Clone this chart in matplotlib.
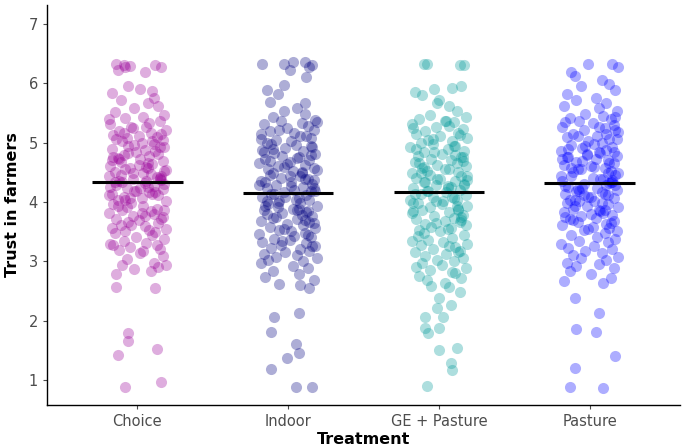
import matplotlib
matplotlib.use("Agg")
import matplotlib.pyplot as plt

# Treatment groups, colours and group means (black bars)
treatments = ["Choice", "Indoor", "GE + Pasture", "Pasture"]
colors = ["#990099", "#000080", "#009999", "#0000FF"]
means = [4.33, 4.15, 4.17, 4.32]

# Jittered points: y value and horizontal offset from group centre
choice_y = [
    6.33, 6.31, 6.28, 6.23, 6.29, 6.19, 6.30, 6.27, 5.96, 5.87,
    5.84, 5.91, 5.62, 5.71, 5.66, 5.58, 5.47, 5.52, 5.76, 5.44,
    5.41, 5.36, 5.31, 5.27, 5.24, 5.21, 5.19, 5.17, 5.13, 5.11,
    5.09, 5.07, 5.04, 5.02, 4.99, 5.39, 5.33, 5.26, 5.14, 5.06,
    4.97, 4.94, 4.92, 4.89, 4.87, 4.84, 4.81, 4.79, 4.77, 4.74,
    4.72, 4.69, 4.67, 4.64, 4.61, 4.59, 4.57, 4.54, 4.51, 4.49,
    4.96, 4.86, 4.76, 4.66, 4.56, 4.93, 4.73, 4.62, 4.53, 4.83,
    4.47, 4.44, 4.42, 4.39, 4.37, 4.34, 4.32, 4.29, 4.27, 4.24,
    4.22, 4.19, 4.17, 4.14, 4.12, 4.09, 4.07, 4.04, 4.02, 3.99,
    4.46, 4.36, 4.26, 4.16, 4.06, 4.43, 4.33, 4.23, 4.13, 4.03,
    4.41, 4.35, 4.25, 4.18, 4.31, 3.97, 3.94, 3.92, 3.89, 3.87,
    3.84, 3.81, 3.79, 3.77, 3.74, 3.71, 3.69, 3.67, 3.64, 3.61,
    3.59, 3.57, 3.54, 3.51, 3.49, 3.93, 3.82, 3.72, 3.62, 3.52,
    3.47, 3.44, 3.41, 3.37, 3.34, 3.31, 3.29, 3.27, 3.24, 3.21,
    3.19, 3.14, 3.09, 3.04, 2.98, 3.28, 3.17, 2.94, 2.91, 2.87,
    2.84, 2.79, 2.93, 2.57, 2.55, 1.79, 1.66, 1.42, 1.52, 0.88,
    0.97, 4.58, 4.71, 4.38, 5.16, 3.86, 4.48, 5.03, 4.11, 3.76]
choice_dx = [
    -0.14, -0.09, -0.08, -0.13, -0.05, 0.05, 0.12, 0.16, -0.06, 0.10,
    -0.17, 0.02, 0.14, -0.11, 0.07, -0.02, 0.18, -0.15, 0.11, 0.04,
    -0.08, 0.15, -0.18, 0.06, -0.03, 0.19, -0.12, 0.09, -0.16, 0.01,
    0.13, -0.07, 0.17, -0.10, 0.03, -0.19, 0.08, -0.04, 0.16, -0.14,
    0.11, -0.06, 0.18, -0.17, 0.05, -0.01, 0.14, -0.09, 0.08, -0.13,
    0.02, 0.17, -0.11, 0.10, -0.18, 0.06, -0.05, 0.19, -0.15, 0.04,
    -0.02, 0.12, -0.16, 0.07, -0.08, 0.15, -0.12, 0.01, 0.18, -0.06,
    0.09, -0.19, 0.13, -0.03, 0.16, -0.10, 0.05, -0.14, 0.11, -0.07,
    0.17, -0.01, 0.08, -0.17, 0.14, -0.09, 0.03, -0.13, 0.19, -0.04,
    -0.11, 0.06, -0.18, 0.12, -0.05, 0.16, -0.15, 0.02, 0.10, -0.08,
    0.15, -0.12, 0.07, -0.02, 0.18, -0.16, 0.04, -0.07, 0.13, -0.10,
    0.09, -0.19, 0.11, -0.03, 0.17, -0.14, 0.01, -0.06, 0.14, -0.11,
    0.05, -0.17, 0.19, -0.08, 0.12, -0.13, 0.03, 0.16, -0.04, 0.08,
    -0.15, 0.10, -0.01, 0.18, -0.09, 0.06, -0.18, 0.13, -0.05, 0.15,
    -0.12, 0.02, 0.17, -0.07, 0.11, -0.16, 0.04, -0.10, 0.14, -0.02,
    0.09, -0.14, 0.19, -0.14, 0.12, -0.06, -0.06, -0.13, 0.13, -0.08,
    0.16, 0.07, -0.17, 0.15, -0.09, 0.18, -0.03, 0.10, -0.19, 0.05]

indoor_y = [
    6.33, 6.35, 6.23, 6.35, 6.28, 6.10, 5.97, 5.82, 5.69, 5.67,
    5.54, 5.49, 6.33, 6.31, 5.88, 5.58, 5.44, 5.38, 5.36, 5.33,
    5.31, 5.28, 5.25, 5.22, 5.19, 5.16, 5.14, 5.11, 5.08, 5.05,
    5.03, 5.00, 5.34, 5.21, 5.12, 4.98, 4.96, 4.93, 4.91, 4.88,
    4.86, 4.83, 4.81, 4.78, 4.76, 4.73, 4.71, 4.68, 4.65, 4.63,
    4.61, 4.58, 4.56, 4.53, 4.51, 4.48, 4.95, 4.85, 4.74, 4.64,
    4.54, 4.46, 4.43, 4.41, 4.38, 4.36, 4.33, 4.31, 4.28, 4.26,
    4.23, 4.21, 4.18, 4.16, 4.13, 4.11, 4.08, 4.06, 4.03, 4.01,
    4.44, 4.34, 4.24, 4.14, 4.04, 4.39, 4.29, 4.19, 4.09, 3.98,
    3.96, 3.93, 3.91, 3.88, 3.86, 3.83, 3.81, 3.78, 3.76, 3.73,
    3.71, 3.68, 3.66, 3.63, 3.61, 3.58, 3.56, 3.53, 3.51, 3.94,
    3.84, 3.74, 3.64, 3.54, 3.89, 3.79, 3.48, 3.46, 3.43, 3.41,
    3.38, 3.36, 3.33, 3.31, 3.28, 3.26, 3.23, 3.21, 3.18, 3.16,
    3.13, 3.11, 3.08, 3.06, 3.03, 3.01, 3.35, 3.25, 2.97, 2.92,
    2.88, 2.83, 2.78, 2.74, 2.69, 2.62, 2.60, 2.55, 2.06, 2.13,
    1.81, 1.61, 1.46, 1.37, 1.19, 0.88, 0.88, 4.69, 4.49, 4.27,
    3.99, 4.79, 5.06, 3.69, 4.59, 4.37, 4.02, 3.87, 4.89, 3.44]
indoor_dx = [
    -0.03, 0.03, 0.01, 0.11, 0.14, 0.12, -0.03, -0.07, -0.12, 0.11,
    -0.03, 0.11, -0.17, 0.16, -0.14, 0.06, -0.10, 0.18, -0.05, 0.09,
    -0.16, 0.13, -0.01, 0.17, -0.12, 0.04, -0.18, 0.08, 0.15, -0.08,
    0.02, -0.14, 0.19, -0.06, 0.12, -0.11, 0.05, 0.16, -0.02, -0.17,
    0.10, -0.09, 0.18, -0.04, 0.07, -0.15, 0.14, 0.01, -0.19, 0.11,
    -0.07, 0.17, -0.13, 0.03, 0.09, -0.10, 0.15, -0.16, 0.06, -0.01,
    0.19, -0.12, 0.08, -0.05, 0.13, -0.18, 0.02, 0.16, -0.08, 0.10,
    -0.14, 0.04, 0.18, -0.03, -0.11, 0.12, -0.17, 0.07, 0.14, -0.06,
    0.01, -0.15, 0.17, -0.09, 0.05, 0.11, -0.19, 0.15, -0.02, 0.08,
    -0.13, 0.19, -0.07, 0.03, -0.16, 0.12, -0.04, 0.09, 0.16, -0.10,
    0.06, -0.18, 0.14, -0.01, 0.10, -0.12, 0.18, -0.06, 0.02, -0.15,
    0.13, -0.08, 0.17, -0.03, 0.07, -0.14, 0.11, -0.19, 0.04, 0.15,
    -0.09, 0.01, -0.17, 0.12, -0.05, 0.18, -0.11, 0.08, 0.14, -0.02,
    -0.16, 0.06, -0.08, 0.19, -0.13, 0.10, -0.04, 0.16, -0.18, 0.03,
    0.13, -0.10, 0.07, -0.15, 0.17, -0.06, 0.08, 0.14, -0.09, 0.07,
    -0.11, 0.05, 0.07, -0.01, -0.11, 0.05, 0.16, -0.12, 0.09, 0.02,
    -0.07, 0.15, -0.18, 0.11, -0.03, 0.17, -0.14, 0.06, -0.10, 0.13]

ge_y = [
    6.33, 6.32, 6.30, 6.31, 5.92, 5.90, 5.80, 5.72, 5.67, 5.62,
    5.95, 5.85, 5.53, 5.47, 5.43, 5.40, 5.37, 5.34, 5.31, 5.28,
    5.26, 5.23, 5.20, 5.17, 5.14, 5.11, 5.08, 5.05, 5.02, 4.99,
    5.36, 5.24, 5.13, 4.97, 4.94, 4.92, 4.89, 4.86, 4.84, 4.81,
    4.78, 4.76, 4.73, 4.71, 4.68, 4.66, 4.63, 4.61, 4.58, 4.56,
    4.53, 4.51, 4.48, 4.95, 4.85, 4.75, 4.65, 4.55, 4.46, 4.43,
    4.41, 4.38, 4.36, 4.33, 4.31, 4.28, 4.26, 4.23, 4.21, 4.18,
    4.16, 4.13, 4.11, 4.08, 4.06, 4.03, 4.01, 4.44, 4.34, 4.24,
    4.14, 4.04, 4.39, 4.29, 4.19, 4.09, 3.98, 3.96, 3.93, 3.91,
    3.88, 3.86, 3.83, 3.81, 3.78, 3.76, 3.73, 3.71, 3.68, 3.66,
    3.63, 3.61, 3.58, 3.56, 3.53, 3.51, 3.94, 3.84, 3.74, 3.64,
    3.54, 3.48, 3.45, 3.42, 3.39, 3.36, 3.33, 3.30, 3.27, 3.24,
    3.21, 3.18, 3.15, 3.12, 3.09, 3.06, 3.03, 3.00, 3.35, 3.25,
    3.15, 2.97, 2.94, 2.91, 2.88, 2.85, 2.80, 2.76, 2.72, 2.68,
    2.64, 2.58, 2.57, 2.48, 2.38, 2.21, 2.26, 2.06, 2.06, 1.88,
    1.80, 1.88, 1.50, 1.54, 1.29, 1.17, 0.90, 4.69, 4.49, 4.27,
    3.99, 4.79, 5.06, 3.69, 4.59, 4.37, 4.02, 3.87, 4.89, 2.82]
ge_dx = [
    -0.08, -0.10, 0.14, 0.17, 0.09, -0.03, -0.11, 0.00, -0.01, 0.07,
    0.15, -0.16, 0.12, -0.06, 0.18, -0.13, 0.04, 0.10, -0.18, 0.07,
    -0.02, 0.16, -0.09, 0.13, -0.15, 0.01, 0.19, -0.07, 0.09, -0.12,
    0.05, -0.17, 0.14, -0.04, 0.11, -0.19, 0.06, 0.17, -0.10, 0.02,
    -0.14, 0.15, -0.05, 0.08, -0.16, 0.12, -0.01, 0.18, -0.11, 0.04,
    -0.08, 0.13, -0.18, 0.10, -0.03, 0.16, -0.13, 0.07, -0.06, 0.19,
    -0.15, 0.01, 0.11, -0.09, 0.17, -0.02, 0.08, -0.17, 0.14, -0.07,
    0.05, -0.12, 0.18, -0.04, 0.10, -0.19, 0.03, 0.15, -0.10, 0.06,
    -0.16, 0.12, -0.01, 0.17, -0.08, 0.09, -0.14, 0.02, 0.19, -0.06,
    0.13, -0.11, 0.07, -0.18, 0.16, -0.03, 0.10, -0.15, 0.04, 0.14,
    -0.09, 0.18, -0.05, 0.08, -0.13, 0.01, 0.12, -0.17, 0.15, -0.02,
    0.06, -0.10, 0.17, -0.14, 0.09, -0.07, 0.03, 0.19, -0.12, 0.11,
    -0.04, 0.14, -0.16, 0.05, -0.09, 0.16, -0.01, 0.10, -0.18, 0.07,
    0.13, -0.11, 0.02, -0.15, 0.18, -0.06, 0.11, -0.13, 0.15, -0.08,
    0.04, -0.05, 0.07, 0.14, 0.00, -0.01, 0.08, -0.09, 0.03, -0.09,
    -0.07, 0.00, 0.00, 0.12, 0.08, 0.09, -0.08, 0.16, -0.12, 0.06,
    -0.17, 0.11, -0.04, 0.15, -0.10, 0.19, -0.02, 0.13, -0.15, 0.09]

pasture_y = [
    6.33, 6.19, 6.33, 6.28, 6.12, 6.05, 5.98, 5.95, 5.88, 5.82,
    5.76, 5.71, 5.66, 5.62, 5.58, 5.53, 5.49, 5.45, 5.42, 5.39,
    5.36, 5.33, 5.30, 5.27, 5.24, 5.21, 5.18, 5.15, 5.12, 5.09,
    5.06, 5.03, 5.00, 5.34, 5.22, 5.11, 4.98, 4.96, 4.93, 4.91,
    4.88, 4.86, 4.83, 4.81, 4.78, 4.76, 4.73, 4.71, 4.68, 4.66,
    4.63, 4.61, 4.58, 4.56, 4.53, 4.51, 4.48, 4.95, 4.85, 4.75,
    4.65, 4.55, 4.46, 4.43, 4.41, 4.38, 4.36, 4.33, 4.31, 4.28,
    4.26, 4.23, 4.21, 4.18, 4.16, 4.13, 4.11, 4.08, 4.06, 4.03,
    4.01, 4.44, 4.34, 4.24, 4.14, 4.04, 4.39, 4.29, 4.19, 4.09,
    3.98, 3.96, 3.93, 3.91, 3.88, 3.86, 3.83, 3.81, 3.78, 3.76,
    3.73, 3.71, 3.68, 3.66, 3.63, 3.61, 3.58, 3.56, 3.53, 3.51,
    3.94, 3.84, 3.74, 3.64, 3.54, 3.47, 3.44, 3.41, 3.38, 3.35,
    3.32, 3.29, 3.26, 3.23, 3.20, 3.17, 3.14, 3.11, 3.08, 3.05,
    3.02, 2.98, 2.95, 2.92, 2.88, 2.84, 2.78, 2.72, 2.67, 2.64,
    2.38, 2.13, 1.86, 1.81, 1.40, 1.20, 0.88, 0.87, 4.69, 4.49,
    4.27, 3.99, 4.79, 5.06, 3.69, 4.59, 4.37, 4.02, 3.87, 4.89,
    5.26, 4.72, 4.32, 4.12, 5.44, 4.57, 3.79, 4.84, 4.22, 5.14]
pasture_dx = [
    -0.01, -0.12, 0.15, 0.19, -0.10, 0.08, 0.13, -0.06, 0.17, -0.15,
    0.04, -0.09, 0.11, -0.17, 0.06, 0.18, -0.03, 0.09, -0.13, 0.14,
    -0.07, 0.02, 0.16, -0.18, 0.10, -0.04, 0.19, -0.11, 0.05, -0.15,
    0.13, -0.01, 0.08, -0.16, 0.17, -0.08, 0.03, -0.12, 0.15, -0.05,
    0.11, -0.19, 0.07, -0.02, 0.18, -0.14, 0.04, 0.12, -0.09, 0.16,
    -0.17, 0.01, 0.10, -0.06, 0.14, -0.11, 0.19, -0.03, 0.06, -0.15,
    0.13, -0.08, 0.17, -0.12, 0.02, 0.09, -0.18, 0.15, -0.04, 0.11,
    -0.14, 0.05, 0.18, -0.07, 0.08, -0.16, 0.12, -0.01, 0.16, -0.10,
    0.03, -0.19, 0.14, -0.05, 0.10, -0.13, 0.07, 0.17, -0.09, 0.01,
    -0.15, 0.12, -0.02, 0.19, -0.11, 0.06, -0.17, 0.09, 0.15, -0.06,
    0.04, -0.13, 0.16, -0.08, 0.11, -0.18, 0.02, 0.13, -0.04, 0.18,
    -0.10, 0.07, -0.16, 0.14, -0.01, 0.10, -0.12, 0.05, 0.17, -0.07,
    0.12, -0.19, 0.03, -0.14, 0.15, -0.03, 0.08, -0.11, 0.19, -0.06,
    0.11, -0.15, 0.06, -0.09, 0.16, -0.13, 0.01, 0.14, -0.17, 0.09,
    -0.10, 0.06, -0.09, 0.04, 0.17, -0.10, -0.13, 0.09, -0.05, 0.12,
    -0.16, 0.08, -0.02, 0.18, -0.11, 0.03, 0.15, -0.07, 0.10, -0.14,
    0.06, -0.18, 0.13, -0.04, 0.17, -0.12, 0.01, 0.16, -0.08, 0.11]

groups_y = [choice_y, indoor_y, ge_y, pasture_y]
groups_dx = [choice_dx, indoor_dx, ge_dx, pasture_dx]

fig = plt.figure(figsize=(6.89, 4.47), dpi=100)
ax = fig.add_axes([0.068, 0.094, 0.919, 0.895])

for i, (ys, dxs, col) in enumerate(zip(groups_y, groups_dx, colors)):
    xs = [i + 1 + d for d in dxs]
    ax.scatter(xs, ys, s=64, color=col, alpha=0.32, linewidths=0, zorder=2)

# mean bars
for i, m in enumerate(means):
    ax.plot([i + 1 - 0.3, i + 1 + 0.3], [m, m], color="black", lw=2.2,
            solid_capstyle="butt", zorder=3)

ax.set_xlim(0.4, 4.6)
ax.set_ylim(0.58, 7.32)
ax.set_xticks(range(1, 5))
ax.set_xticklabels(treatments)
ax.set_yticks(range(1, 8))

for side in ["top", "right"]:
    ax.spines[side].set_visible(False)
for side in ["left", "bottom"]:
    ax.spines[side].set_color("black")
    ax.spines[side].set_linewidth(1.0)

ax.tick_params(axis="both", colors="#4D4D4D", labelsize=10.5, length=3, width=0.8)
ax.set_xlabel("Treatment", fontsize=11.5, fontweight="bold", labelpad=2)
ax.set_ylabel("Trust in farmers", fontsize=11.5, fontweight="bold", labelpad=6)

fig.savefig("out.png", dpi=100)
